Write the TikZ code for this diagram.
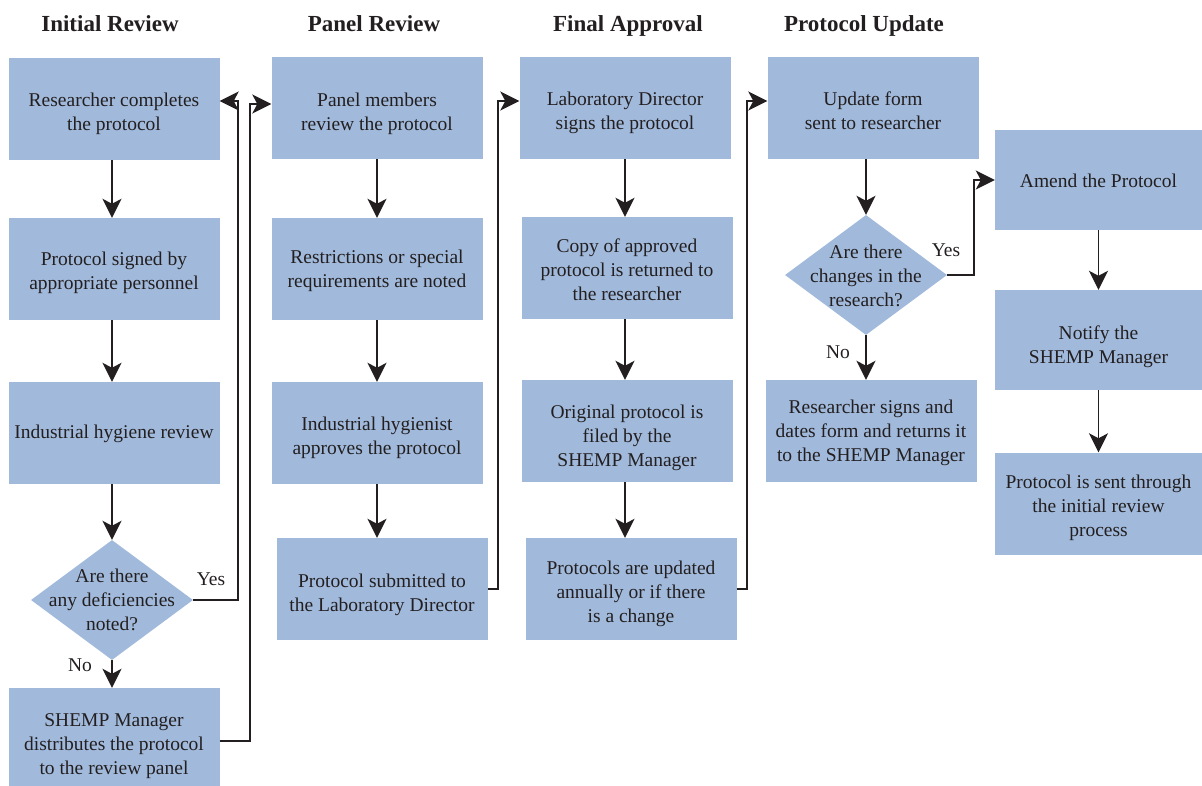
\documentclass[tikz,border=0pt]{standalone}
\usepackage{fontspec}
\setmainfont{Liberation Serif}
\usetikzlibrary{arrows.meta,shapes.geometric}
\definecolor{boxblue}{RGB}{161,186,220}
\definecolor{ink}{RGB}{35,31,32}

\begin{document}
\begin{tikzpicture}[x=1pt,y=-1pt,
  stepbox/.style={fill=boxblue, minimum width=211pt, minimum height=102pt, inner sep=0pt},
  decision/.style={diamond, fill=boxblue, minimum width=162pt, minimum height=120pt, inner sep=0pt},
  btext/.style={align=center, text=ink, inner sep=0pt, font=\fontsize{19.5}{24}\selectfont},
  header/.style={anchor=base, text=ink, font=\fontsize{23}{26}\selectfont\bfseries},
  lbl/.style={text=ink, font=\fontsize{19.5}{24}\selectfont},
  flow/.style={draw=ink, line width=1.8pt, -{Stealth[length=19pt,width=19pt,inset=5pt]}}]

\useasboundingbox (0,0) rectangle (1202,786);

% column headers
\node[header] (h1) at (110,32) {Initial Review};
\node[header] (h2) at (374,32) {Panel Review};
\node[header] (h3) at (628,32) {Final Approval};
\node[header] (h4) at (864,32) {Protocol Update};

% Initial Review
\node[stepbox] (a1) at (114,109) {};
\node[btext] (a1t) at ([yshift=-5pt]a1.center) {Researcher completes\\the protocol};
\node[stepbox] (a2) at (114,269) {};
\node[btext] (a2t) at ([yshift=-4pt]a2.center) {Protocol signed by\\appropriate personnel};
\node[stepbox] (a3) at (114,433) {};
\node[btext] (a3t) at ([yshift=-1pt]a3.center) {Industrial hygiene review};
\node[decision] (ad) at (112,600) {};
\node[btext] (adt) at (ad.center) {Are there\\any deficiencies\\noted?};
\node[stepbox, minimum height=100pt] (a4) at (114,738) {};
\node[btext] (a4t) at ([yshift=-8pt]a4.center) {SHEMP Manager\\distributes the protocol\\to the review panel};

% Panel Review
\node[stepbox] (b1) at (377,108) {};
\node[btext] (b1t) at ([yshift=-6pt]b1.center) {Panel members\\review the protocol};
\node[stepbox] (b2) at (377,269) {};
\node[btext] (b2t) at ([yshift=-2pt]b2.center) {Restrictions or special\\requirements are noted};
\node[stepbox] (b3) at (377,433) {};
\node[btext] (b3t) at ([yshift=-5pt]b3.center) {Industrial hygienist\\approves the protocol};
\node[stepbox] (b4) at (382,589) {};
\node[btext] (b4t) at ([yshift=-6pt]b4.center) {Protocol submitted to\\the Laboratory Director};

% Final Approval
\node[stepbox] (c1) at (625,108) {};
\node[btext] (c1t) at ([yshift=-5pt]c1.center) {Laboratory Director\\signs the protocol};
\node[stepbox] (c2) at (627,268) {};
\node[btext] (c2t) at ([yshift=-2pt]c2.center) {Copy of approved\\protocol is returned to\\the researcher};
\node[stepbox] (c3) at (627,431) {};
\node[btext] (c3t) at ([yshift=-7pt]c3.center) {Original protocol is\\filed by the\\SHEMP Manager};
\node[stepbox] (c4) at (631,589) {};
\node[btext] (c4t) at ([yshift=-5pt]c4.center) {Protocols are updated\\annually or if there\\is a change};

% Protocol Update
\node[stepbox] (d1) at (873,108) {};
\node[btext] (d1t) at ([yshift=-3pt]d1.center) {Update form\\sent to researcher};
\node[decision] (dd) at (866,275) {};
\node[btext] (ddt) at ([yshift=-1pt]dd.center) {Are there\\changes in the\\research?};
\node[stepbox] (d2) at (871,431) {};
\node[btext] (d2t) at ([yshift=-2pt]d2.center) {Researcher signs and\\dates form and returns it\\to the SHEMP Manager};

% Amendment path
\node[stepbox, minimum width=207pt, minimum height=100pt] (e1) at (1098.5,180) {};
\node[btext] (e1t) at ([yshift=-1pt]e1.center) {Amend the Protocol};
\node[stepbox, minimum width=207pt, minimum height=100pt] (e2) at (1098.5,340) {};
\node[btext] (e2t) at ([yshift=-7pt]e2.center) {Notify the\\SHEMP Manager};
\node[stepbox, minimum width=207pt] (e3) at (1098.5,503.5) {};
\node[btext] (e3t) at ([yshift=-4pt]e3.center) {Protocol is sent through\\the initial review\\process};

% vertical flow within columns
\draw[flow] (a1.south -| ad) -- (a2.north -| ad);
\draw[flow] (a2.south -| ad) -- (a3.north -| ad);
\draw[flow] (a3.south -| ad) -- (ad.north);
\draw[flow] (ad.south) -- (a4.north -| ad);
\draw[flow] (b1) -- (b2);
\draw[flow] (b2) -- (b3);
\draw[flow] (b3.south) -- (b4.north -| b3);
\draw[flow] (c1.south) -- (c2.north -| c1);
\draw[flow] (c2.south -| c1) -- (c3.north -| c1);
\draw[flow] (c3.south -| c1) -- (c4.north -| c1);
\draw[flow] (d1.south -| dd) -- (dd.north);
\draw[flow] (dd.south) -- (d2.north -| dd);
\draw[flow] (e1) -- (e2);
\draw[flow] (e2) -- (e3);

% connections between columns
\draw[flow] (ad.east) -- ++(45,0) |- ([yshift=8pt]a1.east);
\draw[flow] ([yshift=-3pt]a4.east) -- ++(30,0) |- ([yshift=4pt]b1.west);
\draw[flow] (b4.east) -- ++(10,0) |- ([yshift=7pt]c1.west);
\draw[flow] (c4.east) -- ++(10,0) |- ([yshift=7pt]d1.west);
\draw[flow] (dd.east) -- ++(27,0) |- (e1.west);

% branch labels
\node[lbl] (y1) at (211,579) {Yes};
\node[lbl] (n1) at (80,665) {No};
\node[lbl] (y2) at (946,250) {Yes};
\node[lbl] (n2) at (838,352) {No};
\end{tikzpicture}
\end{document}
